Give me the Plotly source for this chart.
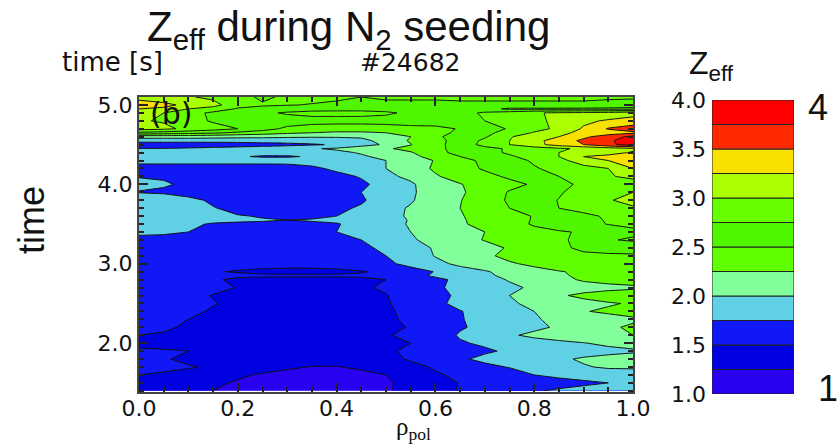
import plotly.graph_objects as go

rho = [round(0.05 * i, 2) for i in range(21)]
time_s = [1.4, 1.5, 1.6, 1.7, 1.8, 1.9, 2.0, 2.1, 2.2, 2.3, 2.4, 2.5, 2.6, 2.7, 2.8, 2.85, 2.9,
          3.0, 3.1, 3.2, 3.3, 3.4, 3.5, 3.55, 3.6, 3.7, 3.8, 3.9, 4.0, 4.1, 4.2, 4.3, 4.35, 4.4,
          4.45, 4.5, 4.55, 4.6, 4.65, 4.7, 4.8, 4.9, 4.95, 5.0, 5.1]
zeff = [
 [1.36,1.33,1.29,1.25,1.22,1.20,1.18,1.17,1.17,1.19,1.23,1.30,1.40,1.52,1.60,1.67,1.73,1.78,1.82,1.85,1.88],
 [1.42,1.38,1.32,1.28,1.23,1.20,1.18,1.17,1.17,1.19,1.23,1.30,1.40,1.51,1.57,1.60,1.63,1.67,1.71,1.75,1.82],
 [1.50,1.46,1.42,1.34,1.28,1.23,1.21,1.20,1.20,1.22,1.25,1.33,1.47,1.55,1.60,1.66,1.75,1.80,1.84,1.87,1.90],
 [1.60,1.57,1.52,1.47,1.38,1.32,1.27,1.245,1.245,1.27,1.32,1.42,1.53,1.62,1.70,1.76,1.83,1.90,1.98,2.03,2.03],
 [1.58,1.52,1.45,1.40,1.36,1.33,1.31,1.30,1.30,1.33,1.42,1.53,1.62,1.72,1.80,1.85,1.90,1.96,2.03,2.08,2.10],
 [1.55,1.53,1.50,1.42,1.38,1.35,1.33,1.33,1.34,1.37,1.45,1.56,1.62,1.67,1.72,1.78,1.83,1.87,1.90,1.93,1.97],
 [1.42,1.41,1.40,1.38,1.36,1.35,1.34,1.34,1.35,1.37,1.43,1.50,1.60,1.73,1.78,1.84,1.90,1.95,1.99,2.05,2.08],
 [1.50,1.48,1.43,1.41,1.39,1.37,1.36,1.36,1.37,1.40,1.48,1.56,1.65,1.77,1.85,1.97,2.05,2.10,2.16,2.20,2.25],
 [1.56,1.53,1.47,1.42,1.40,1.38,1.37,1.37,1.38,1.41,1.46,1.51,1.62,1.73,1.80,1.87,1.95,2.03,2.14,2.22,2.28],
 [1.58,1.55,1.50,1.44,1.41,1.39,1.38,1.38,1.39,1.42,1.47,1.53,1.63,1.74,1.80,1.87,1.98,2.05,2.12,2.18,2.22],
 [1.62,1.58,1.54,1.48,1.43,1.40,1.39,1.39,1.40,1.43,1.47,1.55,1.65,1.74,1.83,1.91,2.00,2.13,2.24,2.28,2.32],
 [1.64,1.60,1.56,1.51,1.46,1.43,1.41,1.41,1.42,1.44,1.48,1.58,1.70,1.81,1.90,1.97,2.05,2.12,2.18,2.23,2.27],
 [1.66,1.62,1.56,1.49,1.45,1.43,1.42,1.42,1.43,1.45,1.49,1.60,1.70,1.78,1.88,2.00,2.12,2.22,2.30,2.36,2.42],
 [1.68,1.65,1.62,1.57,1.49,1.46,1.44,1.44,1.45,1.47,1.53,1.62,1.72,1.80,1.87,1.95,2.04,2.10,2.15,2.18,2.20],
 [1.66,1.62,1.56,1.52,1.47,1.46,1.46,1.46,1.46,1.47,1.50,1.62,1.70,1.80,1.90,2.02,2.10,2.18,2.28,2.33,2.38],
 [1.67,1.63,1.58,1.54,1.53,1.52,1.52,1.52,1.52,1.52,1.53,1.68,1.78,1.88,1.96,2.05,2.14,2.22,2.29,2.33,2.37],
 [1.66,1.62,1.56,1.51,1.49,1.47,1.46,1.46,1.47,1.49,1.53,1.65,1.76,1.92,1.98,2.07,2.17,2.24,2.28,2.32,2.35],
 [1.58,1.57,1.56,1.55,1.55,1.55,1.55,1.55,1.56,1.60,1.70,1.82,1.95,2.04,2.12,2.22,2.30,2.34,2.37,2.40,2.42],
 [1.60,1.60,1.60,1.60,1.60,1.60,1.61,1.62,1.65,1.70,1.75,1.88,2.01,2.10,2.20,2.32,2.38,2.43,2.47,2.47,2.47],
 [1.63,1.63,1.63,1.63,1.63,1.63,1.64,1.66,1.70,1.73,1.77,1.92,2.02,2.10,2.18,2.27,2.36,2.47,2.53,2.57,2.60],
 [1.71,1.71,1.71,1.71,1.71,1.71,1.72,1.72,1.73,1.75,1.85,1.97,2.08,2.18,2.26,2.33,2.41,2.47,2.55,2.73,2.78],
 [1.78,1.77,1.75,1.74,1.73,1.72,1.71,1.72,1.75,1.82,1.92,2.00,2.08,2.15,2.25,2.38,2.45,2.48,2.52,2.60,2.70],
 [1.82,1.80,1.77,1.74,1.73,1.73,1.72,1.73,1.74,1.80,1.92,2.02,2.10,2.22,2.32,2.43,2.52,2.60,2.67,2.76,2.80],
 [1.84,1.82,1.79,1.78,1.77,1.76,1.75,1.76,1.78,1.84,1.94,2.01,2.11,2.23,2.31,2.40,2.52,2.60,2.68,2.77,2.81],
 [1.86,1.84,1.80,1.77,1.76,1.74,1.72,1.72,1.75,1.85,1.95,2.02,2.12,2.24,2.30,2.38,2.52,2.60,2.70,2.78,2.83],
 [1.90,1.87,1.83,1.76,1.70,1.67,1.66,1.66,1.70,1.78,1.93,2.02,2.12,2.25,2.33,2.50,2.60,2.75,2.82,2.90,2.97],
 [1.92,1.88,1.80,1.72,1.63,1.60,1.58,1.58,1.63,1.72,1.87,1.98,2.11,2.24,2.38,2.53,2.64,2.76,2.88,2.98,3.08],
 [1.74,1.72,1.68,1.60,1.55,1.52,1.52,1.53,1.56,1.75,1.87,1.97,2.10,2.22,2.35,2.52,2.60,2.72,2.87,2.93,3.00],
 [1.80,1.77,1.72,1.62,1.58,1.56,1.55,1.55,1.60,1.70,1.85,1.96,2.16,2.24,2.33,2.43,2.53,2.68,2.80,2.86,2.90],
 [1.74,1.73,1.70,1.66,1.62,1.60,1.60,1.62,1.68,1.77,1.94,2.06,2.23,2.33,2.43,2.54,2.65,2.75,2.88,2.98,3.05],
 [1.62,1.62,1.62,1.62,1.62,1.62,1.63,1.70,1.80,1.92,2.00,2.15,2.28,2.40,2.53,2.63,2.73,2.82,2.92,3.00,3.25],
 [1.85,1.85,1.85,1.85,1.85,1.85,1.85,1.86,1.88,1.94,2.00,2.16,2.26,2.42,2.55,2.66,2.78,2.93,3.12,3.25,3.30],
 [1.80,1.80,1.80,1.80,1.77,1.73,1.73,1.77,1.86,1.97,2.06,2.20,2.32,2.50,2.62,2.72,2.84,3.00,3.25,3.30,3.35],
 [1.78,1.78,1.79,1.80,1.81,1.82,1.84,1.88,1.95,2.02,2.12,2.23,2.42,2.58,2.68,2.78,2.90,3.00,3.10,3.18,3.27],
 [1.76,1.76,1.78,1.82,1.85,1.88,1.92,1.98,2.03,2.12,2.22,2.32,2.45,2.57,2.68,2.78,2.88,2.96,3.05,3.12,3.20],
 [1.60,1.60,1.60,1.60,1.62,1.65,1.68,1.72,1.78,1.92,2.03,2.24,2.42,2.62,2.82,3.00,3.17,3.35,3.50,3.70,3.85],
 [1.85,1.85,1.85,1.85,1.85,1.86,1.87,1.88,1.90,1.94,2.08,2.28,2.42,2.60,2.80,3.00,3.17,3.37,3.55,3.72,3.85],
 [2.10,2.10,2.10,2.08,2.06,2.05,2.03,2.02,2.02,2.03,2.15,2.25,2.45,2.62,2.72,2.98,3.12,3.25,3.45,3.62,3.82],
 [2.70,2.65,2.60,2.55,2.45,2.38,2.30,2.25,2.22,2.22,2.25,2.30,2.42,2.55,2.68,2.85,3.02,3.20,3.30,3.38,3.45],
 [3.10,3.05,2.95,2.85,2.75,2.60,2.45,2.38,2.35,2.35,2.38,2.42,2.42,2.52,2.65,2.77,2.92,3.05,3.28,3.52,3.62],
 [3.02,2.98,2.85,2.72,2.68,2.66,2.62,2.60,2.60,2.60,2.60,2.62,2.65,2.70,2.75,2.82,2.90,3.10,3.20,3.28,3.35],
 [3.05,3.00,2.85,2.70,2.62,2.55,2.47,2.42,2.42,2.42,2.46,2.55,2.62,2.68,2.78,2.88,2.98,3.03,3.05,3.08,3.15],
 [3.25,3.20,3.00,2.90,2.72,2.67,2.63,2.60,2.58,2.58,2.60,2.63,2.66,2.68,2.60,2.45,2.45,2.45,2.45,2.45,2.45],
 [3.40,3.32,3.18,3.08,2.85,2.78,2.76,2.74,2.72,2.70,2.70,2.70,2.70,2.72,2.72,2.72,2.72,2.72,2.70,2.65,2.60],
 [3.15,3.08,3.02,2.95,2.85,2.70,2.80,2.80,2.78,2.75,2.78,2.78,2.78,2.78,2.78,2.78,2.78,2.78,2.80,2.80,2.80],
]
levels = [1.0, 1.25, 1.5, 1.75, 2.0, 2.25, 2.5, 2.75, 3.0, 3.25, 3.5, 3.75]
band_colors = ["#2a00f0", "#0000e0", "#1018f5", "#60d0e5", "#80ff9a", "#60ff00",
               "#50f500", "#66ff00", "#aaff00", "#f8e000", "#ff2a00", "#ff0000"]
band_height = 0.25
x_ticks = [0.0, 0.2, 0.4, 0.6, 0.8, 1.0]
y_ticks = [2.0, 3.0, 4.0, 5.0]
bar_ticks = [1.0, 1.5, 2.0, 2.5, 3.0, 3.5, 4.0]

W, H = 837, 445
n = len(band_colors) + 1
scale = [[0.0, band_colors[0]]]
for k, c in enumerate(band_colors):
    scale.append([(k + 0.5) / n, c])
    scale.append([(k + 1.5) / n, c])
scale.append([1.0, band_colors[-1]])

fig = go.Figure()
fig.add_trace(go.Contour(
    x=rho, y=time_s, z=zeff, autocontour=False,
    contours=dict(start=1.0, end=4.0, size=0.25, coloring="fill"),
    colorscale=scale, showscale=False, line=dict(color="#111", width=1, smoothing=0),
    xaxis="x", yaxis="y", hoverinfo="skip"))
fig.add_trace(go.Bar(
    x=[0] * len(levels), y=[band_height] * len(levels), base=levels,
    marker=dict(color=band_colors, line=dict(color="#222", width=1)),
    width=1, xaxis="x2", yaxis="y2", showlegend=False, hoverinfo="skip"))

tick_font = dict(family="DejaVu Sans", size=22, color="#111")
fig.update_layout(
    width=W, height=H, autosize=False, margin=dict(l=0, r=0, t=0, b=0, autoexpand=False),
    paper_bgcolor="white", plot_bgcolor="white", barmode="overlay", showlegend=False,
    xaxis=dict(domain=[139 / W, 633 / W], range=[0, 1], tickvals=x_ticks, ticktext=[f"{v:.1f}" for v in x_ticks],
               ticks="inside", ticklen=9, tickwidth=2, tickcolor="#222", showline=True, linewidth=2, linecolor="#444",
               mirror="ticks", showgrid=False, zeroline=False, tickfont=tick_font, anchor="y", ticklabelstandoff=-4,
               minor=dict(dtick=0.05, ticks="inside", ticklen=5, tickwidth=1.5, tickcolor="#222", showgrid=False)),
    yaxis=dict(domain=[1 - 392 / H, 1 - 97 / H], range=[1.385, 5.1], tickvals=y_ticks, ticktext=[f"{v:.1f}" for v in y_ticks],
               ticks="inside", ticklen=9, tickwidth=2, tickcolor="#222", showline=True, linewidth=2, linecolor="#444",
               mirror="ticks", showgrid=False, zeroline=False, tickfont=tick_font, anchor="x",
               minor=dict(dtick=0.1, ticks="inside", ticklen=5, tickwidth=1.5, tickcolor="#222", showgrid=False)),
    xaxis2=dict(domain=[712 / W, 794 / W], range=[-0.5, 0.5], showticklabels=False, ticks="", showgrid=False,
                zeroline=False, showline=False, anchor="y2"),
    yaxis2=dict(domain=[1 - 394 / H, 1 - 100 / H], range=[1, 4], tickvals=bar_ticks,
                ticktext=[f"{v:.1f}" for v in bar_ticks], ticks="", showgrid=False, zeroline=False, showline=False,
                tickfont=tick_font, anchor="x2", ticklabelstandoff=5),
)


def note(text, px, py, family, size, anchor="center", angle=0):
    fig.add_annotation(text=text, x=px / W, y=1 - py / H, xref="paper", yref="paper", showarrow=False,
                       xanchor=anchor, yanchor="middle", textangle=angle,
                       font=dict(family=family, size=size, color="#111"))


note("Z<sub>eff</sub> during N<sub>2</sub> seeding", 348, 30, "Liberation Sans", 42)
note("time [s]", 113, 62, "DejaVu Sans", 26)
note("#24682", 410, 63, "DejaVu Sans", 25)
note("Z<sub>eff</sub>", 711, 65, "Liberation Sans", 32)
note("4", 818, 108, "Liberation Sans", 36)
note("1", 828, 388, "Liberation Sans", 36)
note("(b)", 171, 113, "DejaVu Sans", 30)
note("time", 31, 220, "Liberation Sans", 36, angle=-90)
note("ρ<sub>pol</sub>", 413, 428, "Liberation Serif", 25)

fig.write_html("out.html", config={"displayModeBar": False}, post_script="document.body.style.margin='0';")
